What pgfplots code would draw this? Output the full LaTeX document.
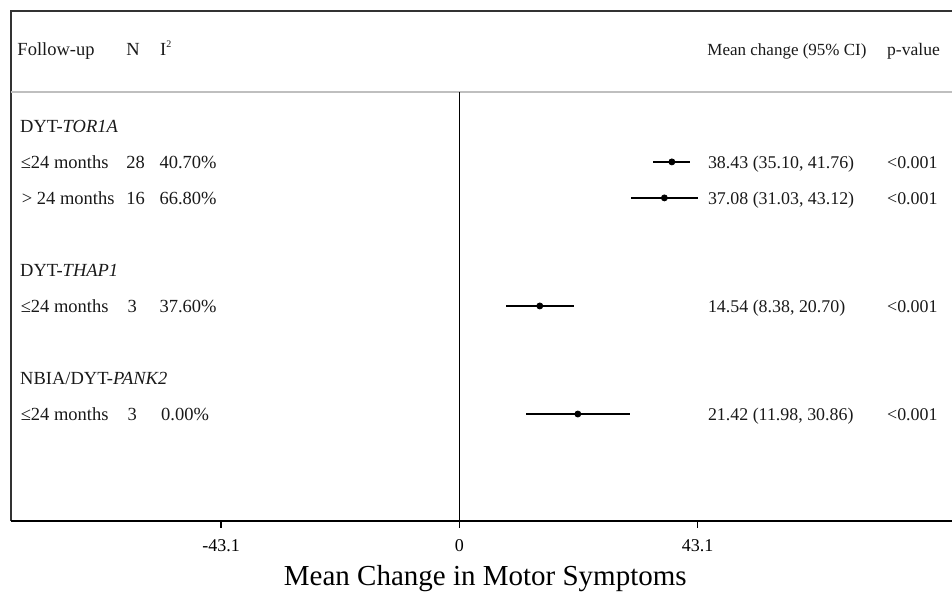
\documentclass[border=0pt]{standalone}
\usepackage{fontspec}
\setmainfont{Liberation Serif}
\usepackage{pgfplots}
\pgfplotsset{compat=1.18}

\begin{document}
\begin{tikzpicture}[
  txt/.style={anchor=base west, inner sep=0pt, yshift=-3.1pt,
              font=\fontsize{9.25}{11}\selectfont, text=black!90},
  rtxt/.style={txt, font=\fontsize{8.95}{11}\selectfont}]
\begin{axis}[
  width=470.5pt, height=255pt, scale only axis,
  xmin=-81.1, xmax=89.1, ymin=-11.97, ymax=2.19,
  axis line style={draw=none},
  ytick=\empty,
  xtick={-43.1,0,43.1},
  xticklabels={-43.1,0,43.1},
  xtick pos=lower, tick align=outside,
  major tick length=3.5pt,
  x tick style={black, line width=0.6pt},
  xticklabel style={font=\fontsize{9}{10}\selectfont, anchor=base, yshift=-12pt},
  xlabel={Mean Change in Motor Symptoms},
  xlabel style={font=\fontsize{14.5}{16}\selectfont, at={(axis description cs:0.504,0)},
                anchor=base, yshift=-32.5pt},
  clip=false,
]
% frame
\draw[black!80, line width=0.8pt] (axis cs:-81.1,-11.97) -- (axis cs:-81.1,2.19) -- (axis cs:89.1,2.19);
\draw[black!25, line width=0.6pt] (axis cs:-81.1,-0.059) -- (axis cs:89.1,-0.059);
\draw[black, line width=1.3pt] (axis cs:-81.1,-11.97) -- (axis cs:89.1,-11.97);
\draw[black, line width=0.6pt] (axis cs:0,-0.059) -- (axis cs:0,-11.97);

% estimates with 95% CI
\addplot[only marks, mark=*, mark size=1.5pt, black,
  error bars/.cd, x dir=both, x explicit, error mark=none,
  error bar style={line width=1.25pt, black}]
coordinates {
  (38.43,-2) += (3.33,0) -= (3.33,0)
  (37.08,-3) += (6.04,0) -= (6.05,0)
  (14.54,-6) += (6.16,0) -= (6.16,0)
  (21.42,-9) += (9.44,0) -= (9.44,0)
};

% header
\node[txt] at (axis cs:-80.0,1.135) {Follow-up};
\node[txt] at (axis cs:-60.3,1.135) {N};
\node[txt] at (axis cs:-54.2,1.135) {I\raisebox{0.85ex}{\fontsize{5}{5}\selectfont 2}};
\node[txt, font=\fontsize{8.5}{10}\selectfont] at (axis cs:44.8,1.135) {Mean change (95\% CI)};
\node[txt, font=\fontsize{8.8}{10}\selectfont] at (axis cs:77.3,1.135) {p-value};

% left columns
\node[txt] at (axis cs:-79.5,-1) {DYT-\textit{TOR1A}};
\node[txt] at (axis cs:-79.4,-2) {≤24 months};
\node[txt] at (axis cs:-60.3,-2) {28};
\node[txt] at (axis cs:-54.3,-2) {40.70\%};
\node[txt] at (axis cs:-79.2,-3) {> 24 months};
\node[txt] at (axis cs:-60.3,-3) {16};
\node[txt] at (axis cs:-54.3,-3) {66.80\%};
\node[txt] at (axis cs:-79.5,-5) {DYT-\textit{THAP1}};
\node[txt] at (axis cs:-79.4,-6) {≤24 months};
\node[txt] at (axis cs:-60.1,-6) {3};
\node[txt] at (axis cs:-54.3,-6) {37.60\%};
\node[txt] at (axis cs:-79.5,-8) {NBIA/DYT-\textit{PANK2}};
\node[txt] at (axis cs:-79.4,-9) {≤24 months};
\node[txt] at (axis cs:-60.1,-9) {3};
\node[txt] at (axis cs:-54.0,-9) {0.00\%};

% right columns
\node[rtxt] at (axis cs:44.9,-2) {38.43 (35.10, 41.76)};
\node[rtxt] at (axis cs:77.3,-2) {<0.001};
\node[rtxt] at (axis cs:44.9,-3) {37.08 (31.03, 43.12)};
\node[rtxt] at (axis cs:77.3,-3) {<0.001};
\node[rtxt] at (axis cs:44.9,-6) {14.54 (8.38, 20.70)};
\node[rtxt] at (axis cs:77.3,-6) {<0.001};
\node[rtxt] at (axis cs:44.9,-9) {21.42 (11.98, 30.86)};
\node[rtxt] at (axis cs:77.3,-9) {<0.001};
\end{axis}
\pgfresetboundingbox
\useasboundingbox ([xshift=-5.5pt,yshift=5.5pt]current axis.north west)
  rectangle ([yshift=-35.5pt]current axis.south east);
\end{tikzpicture}
\end{document}
